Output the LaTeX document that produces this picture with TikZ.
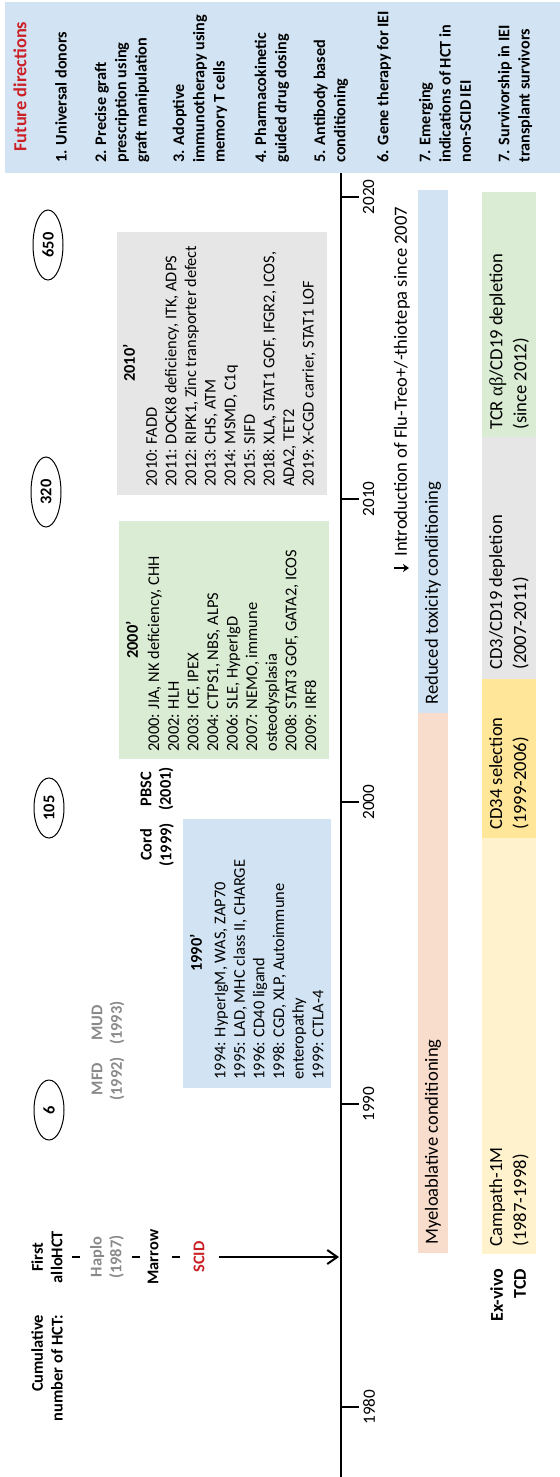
\documentclass[tikz,border=0pt]{standalone}
\usepackage{fontspec}
\setmainfont{Carlito}
\newfontfamily\grkfnt{Liberation Serif}
\usetikzlibrary{shapes.geometric,arrows.meta,calc}

\definecolor{boxblue}{RGB}{210,228,243}
\definecolor{boxgreen}{RGB}{218,236,212}
\definecolor{boxgray}{RGB}{231,230,230}
\definecolor{barsalmon}{RGB}{248,220,204}
\definecolor{barcream}{RGB}{255,242,204}
\definecolor{baryellow}{RGB}{255,230,153}
\definecolor{hctred}{RGB}{204,32,39}
\definecolor{hctgray}{RGB}{137,137,137}

\newcommand{\boxfnt}{\fontsize{8.2}{9.8}\selectfont}
\newcommand{\barfnt}{\fontsize{9.3}{12}\selectfont}
\newcommand{\itemfnt}{\fontsize{8.1}{10.1}\selectfont\bfseries}
\newcommand{\tickfnt}{\fontsize{8.6}{10}\selectfont}

\begin{document}
\begin{tikzpicture}[x=0.5pt,y=0.5pt,yscale=-1,
  txt/.style={rotate=90,inner sep=0pt,align=left,font=\boxfnt},
  lbl/.style={rotate=90,inner sep=0.75pt,align=center,font=\boxfnt\bfseries},
  bartxt/.style={rotate=90,inner sep=0pt,anchor=west,align=left,font=\barfnt},
  cnt/.style={ellipse,draw,line width=0.5pt,rotate=90,minimum width=30pt,minimum height=15pt,inner sep=0pt,font=\boxfnt\bfseries},
  axisline/.style={line width=1pt},
  tie/.style={line width=1.2pt}]
\useasboundingbox (0,0) rectangle (560,1477);

%Future directions
\fill[boxblue] (5,2) rectangle (560,173);
\node[rotate=90,anchor=west,inner sep=0pt,text=hctred,font=\fontsize{9.2}{11}\selectfont\bfseries] (fdhead) at (20,152) {Future directions};
\node[txt,anchor=west,font=\itemfnt] (fd1) at (61,163) {1. Universal donors};
\node[txt,anchor=west,font=\itemfnt] (fd2) at (122,163) {2. Precise graft\\prescription using\\graft manipulation};
\node[txt,anchor=west,font=\itemfnt] (fd3) at (200,163) {3. Adoptive\\immunotherapy using\\memory T cells};
\node[txt,anchor=west,font=\itemfnt] (fd4) at (272,163) {4. Pharmacokinetic\\guided drug dosing};
\node[txt,anchor=west,font=\itemfnt] (fd5) at (331,163) {5. Antibody based\\conditioning};
\node[txt,anchor=west,font=\itemfnt] (fd6) at (384,163) {6. Gene therapy for IEI};
\node[txt,anchor=west,font=\itemfnt] (fd7) at (445,163) {7. Emerging\\indications of HCT in\\non-SCID IEI};
\node[txt,anchor=west,font=\itemfnt] (fd8) at (515,163) {7. Survivorship in IEI\\transplant survivors};

%Decade boxes
\fill[boxblue] (183,819) rectangle (331,1088);
\fill[boxgreen] (119,521) rectangle (329,759);
\fill[boxgray] (117,232) rectangle (327,495);

%Conditioning bars
\fill[barsalmon] (418,713) rectangle (448,1253);
\fill[boxblue] (418,190) rectangle (448,713);
%Ex-vivo TCD bars
\fill[barcream] (482,838) rectangle (536,1254);
\fill[baryellow] (482,679) rectangle (536,838);
\fill[boxgray] (482,437) rectangle (536,679);
\fill[boxgreen] (482,192) rectangle (536,437);

%Timeline
\coordinate (ax0) at (341,1477);
\coordinate (ax1) at (341,173);
\draw[axisline] (ax0) -- (ax1);
\foreach \yr/\yy in {1980/1407,1990/1104,2000/802,2010/499,2020/197}
  \draw[axisline] (341,\yy) -- (359,\yy) node[rotate=90,anchor=north,inner sep=1.5pt,font=\tickfnt] (t\yr) {\yr};

%Cumulative numbers
\node[lbl,align=right,anchor=east] (cumul) at (47,1313) {Cumulative\\number of HCT:};
\node[cnt] (n6) at (49,1110) {6};
\node[cnt] (n105) at (49,808) {105};
\node[cnt,minimum width=35pt] (n320) at (46,492) {320};
\node[cnt,minimum width=35pt] (n650) at (48,245) {650};

%Donors
\node[lbl] (first) at (47,1257) {First\\alloHCT};
\node[lbl,text=hctgray] (haplo) at (107,1257) {Haplo\\(1987)};
\node[lbl] (marrow) at (153,1257) {Marrow};
\node[lbl,text=hctred] (scid) at (199,1257) {SCID};
\draw[tie] ($(first.south)!.5!(haplo.north)$) ++(-4,0) -- ++(8,0);
\draw[tie] ($(haplo.south)!.5!(marrow.north)$) ++(-4,0) -- ++(8,0);
\draw[tie] ($(marrow.south)!.5!(scid.north)$) ++(-4,0) -- ++(8,0);
\coordinate (axscid) at (339,1257);
\draw[axisline,-{Straight Barb[length=5pt,width=7pt]},shorten <=6.5pt] (scid) -- (axscid);

\node[lbl,text=hctgray] (mfd) at (108,1079) {MFD\\(1992)};
\node[lbl,text=hctgray] (mud) at (108,1023) {MUD\\(1993)};
\node[lbl] (cord) at (157,845) {Cord\\(1999)};
\node[lbl] (pbsc) at (157,789) {PBSC\\(2001)};

%1990'
\node[lbl] (h1990) at (196,953) {1990’};
\node[txt,anchor=west] (l1990) at (269,1080) {1994: HyperIgM, WAS, ZAP70\\1995: LAD, MHC class II, CHARGE\\1996: CD40 ligand\\1998: CGD, XLP, Autoimmune\\enteropathy\\1999: CTLA-4};
%2000'
\node[lbl] (h2000) at (132,640) {2000’};
\node[txt,anchor=west] (l2000) at (232,752) {2000: JIA, NK deficiency, CHH\\2002: HLH\\2003: ICF, IPEX\\2004: CTPS1, NBS, ALPS\\2006: SLE, HyperIgD\\2007: NEMO, immune\\osteodysplasia\\2008: STAT3 GOF, GATA2, ICOS\\2009: IRF8};
%2010'
\node[lbl] (h2010) at (129,363) {2010’};
\node[txt,anchor=west] (l2010) at (231,487) {2010: FADD\\2011: DOCK8 deficiency, ITK, ADPS\\2012: RIPK1, Zinc transporter defect\\2013: CHS, ATM\\2014: MSMD, C1q\\2015: SIFD\\2018: XLA, STAT1 GOF, IFGR2, ICOS,\\ADA2, TET2\\2019: X-CGD carrier, STAT1 LOF};

%Conditioning
\coordinate (flua) at (394,568);
\coordinate (flub) at (409,568);
\draw[line width=0.7pt,-{Stealth[length=3pt,width=4pt]}] (flua) -- (flub);
\node[bartxt] (flu) at (402,557) {Introduction of Flu-Treo+/-thiotepa since 2007};
\node[bartxt] (mac) at (433,1245) {Myeloablative conditioning};
\node[bartxt] (rtc) at (433,705) {Reduced toxicity conditioning};

%Ex-vivo TCD
\node[lbl,align=right,anchor=east,font=\fontsize{9}{11.5}\selectfont\bfseries] (tcd) at (508,1267) {Ex-vivo\\TCD};
\node[bartxt] (campath) at (509,1247) {Campath-1M\\(1987-1998)};
\node[bartxt] (cd34) at (509,830) {CD34 selection\\(1999-2006)};
\node[bartxt] (cd3) at (509,670) {CD3/CD19 depletion\\(2007-2011)};
\node[bartxt] (tcrab) at (509,430) {TCR {\grkfnt αβ}/CD19 depletion\\(since 2012)};

\end{tikzpicture}
\end{document}
